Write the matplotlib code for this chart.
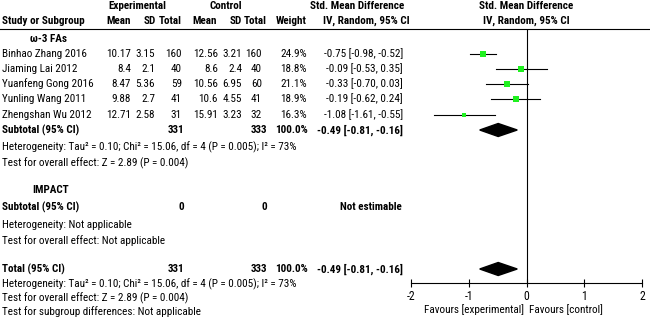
import matplotlib
matplotlib.use('Agg')
import matplotlib.pyplot as plt
from matplotlib import font_manager as fm
from matplotlib.patches import Polygon

plt.rcParams['axes.unicode_minus'] = False

studies = ["Binhao Zhang 2016", "Jiaming Lai 2012", "Yuanfeng Gong 2016",
           "Yunling Wang 2011", "Zhengshan Wu 2012"]
exp_mean = [10.17, 8.4, 8.47, 9.88, 12.71]
exp_sd = [3.15, 2.1, 5.36, 2.7, 2.58]
exp_n = [160, 40, 59, 41, 31]
ctl_mean = [12.56, 8.6, 10.56, 10.6, 15.91]
ctl_sd = [3.21, 2.4, 6.95, 4.55, 3.23]
ctl_n = [160, 40, 60, 41, 32]
weight = [24.9, 18.8, 21.1, 18.9, 16.3]
smd = [-0.75, -0.09, -0.33, -0.19, -1.08]
ci_lo = [-0.98, -0.53, -0.70, -0.62, -1.61]
ci_hi = [-0.52, 0.35, 0.03, 0.24, -0.55]
pooled = [-0.49, -0.81, -0.16]
sub_exp_n, sub_ctl_n = 331, 333
het_text = "Heterogeneity: Tau² = 0.10; Chi² = 15.06, df = 4 (P = 0.005); I² = 73%"
z_text = "Test for overall effect: Z = 2.89 (P = 0.004)"
ticks = [-2, -1, 0, 1, 2]


def have(name):
    try:
        fm.findfont(fm.FontProperties(family=name), fallback_to_default=False)
        return True
    except ValueError:
        return False


family = next(f for f in ['Roboto Condensed', 'Liberation Sans Narrow',
                          'Liberation Sans', 'DejaVu Sans'] if have(f))
plt.rcParams['font.family'] = [family, 'DejaVu Sans']

W, H = 650, 324
fig = plt.figure(figsize=(W / 100, H / 100), dpi=100)
ax = fig.add_axes([0, 0, 1, 1])
ax.set_xlim(0, W)
ax.set_ylim(H, 0)
ax.axis('off')

# pick the size so the heterogeneity line is about as wide as in the reference
probe = ax.text(0, 0, het_text, fontsize=10)
fig.canvas.draw()
fs = 10 * 300 / probe.get_window_extent().width
probe.remove()
fs = min(fs, 8.0)

# forest panel: x in effect units, y in pixel rows
x0, x1, ytop, ybot = 411, 642, 29, 283
fp = fig.add_axes([x0 / W, 1 - ybot / H, (x1 - x0) / W, (ybot - ytop) / H])
fp.set_xlim(-2, 2)
fp.set_ylim(ybot, ytop)
fp.patch.set_alpha(0)
for s in ['top', 'right', 'left']:
    fp.spines[s].set_visible(False)
fp.spines['bottom'].set_linewidth(0.8)
fp.set_xticks(ticks)
fp.set_xticklabels([str(t) for t in ticks])
fp.tick_params(axis='x', direction='inout', length=6, width=0.8, pad=2,
               labelsize=fs + 0.5, labelcolor='black')
fp.set_yticks([])
fp.axvline(0, color='black', lw=0.8)

col = 'black'


def t(x, y, s, ha='left', bold=False, a=ax):
    a.text(x, y, s, ha=ha, va='center', fontsize=fs, color=col,
           fontweight='bold' if bold else 'normal', clip_on=False)


# headers
t(137, 6, "Experimental", 'center', True)
t(226, 6, "Control", 'center', True)
t(357, 6, "Std. Mean Difference", 'center', True)
t(2, 21, "Study or Subgroup", bold=True)
for x, s in [(131, "Mean"), (156, "SD"), (182, "Total"), (217, "Mean"),
             (242, "SD"), (267, "Total"), (307, "Weight")]:
    t(x, 21, s, 'right', True)
t(366, 21, "IV, Random, 95% CI", 'center', True)
t(0, 6, "Std. Mean Difference", 'center', True, fp)
t(0, 21, "IV, Random, 95% CI", 'center', True, fp)
ax.plot([0, W], [29, 29], color='black', lw=0.8)

# subgroup 1
t(30, 38.5, "ω-3 FAs", bold=True)
rows = [54, 69, 84, 99, 115]
for i, y in enumerate(rows):
    t(2, y, studies[i])
    t(131, y, f"{exp_mean[i]:g}", 'right')
    t(155, y, f"{exp_sd[i]:g}", 'right')
    t(182, y, str(exp_n[i]), 'right')
    t(218, y, f"{ctl_mean[i]:g}", 'right')
    t(242, y, f"{ctl_sd[i]:g}", 'right')
    t(262, y, str(ctl_n[i]), 'right')
    t(307, y, f"{weight[i]:.1f}%", 'right')
    t(403, y, f"{smd[i]:.2f} [{ci_lo[i]:.2f}, {ci_hi[i]:.2f}]", 'right')
    fp.plot([ci_lo[i], ci_hi[i]], [y, y], color='black', lw=0.8, clip_on=False)
    fp.plot(smd[i], y, marker='s', color='#1ff01f', mew=0,
            ms=4.2 * (weight[i] / max(weight)) ** 0.5, zorder=3)


def diamond(y):
    m, lo, hi = pooled
    fp.add_patch(Polygon([[lo, y], [m, y - 6.5], [hi, y], [m, y + 6.5]],
                         closed=True, color='black', clip_on=False))


def pooled_row(y, label):
    t(2, y, label, bold=True)
    t(184, y, str(sub_exp_n), 'right', True)
    t(267, y, str(sub_ctl_n), 'right', True)
    t(308, y, "100.0%", 'right', True)
    t(403, y, f"{pooled[0]:.2f} [{pooled[1]:.2f}, {pooled[2]:.2f}]", 'right', True)
    diamond(y)


pooled_row(130, "Subtotal (95% CI)")
t(2, 147, het_text)
t(2, 163, z_text)

# subgroup 2
t(32, 190, "IMPACT", bold=True)
t(2, 207, "Subtotal (95% CI)", bold=True)
t(184, 207, "0", 'right', True)
t(267, 207, "0", 'right', True)
t(402, 207, "Not estimable", 'right', True)
t(2, 225, "Heterogeneity: Not applicable")
t(2, 241, "Test for overall effect: Not applicable")

# total
pooled_row(269, "Total (95% CI)")
t(2, 284, het_text)
t(2, 298, z_text)
t(2, 312, "Test for subgroup differences: Not applicable")

t(-0.05, 310, "Favours [experimental]", 'right', a=fp)
t(0.05, 310, "Favours [control]", a=fp)

fig.savefig("out.png", dpi=100)
